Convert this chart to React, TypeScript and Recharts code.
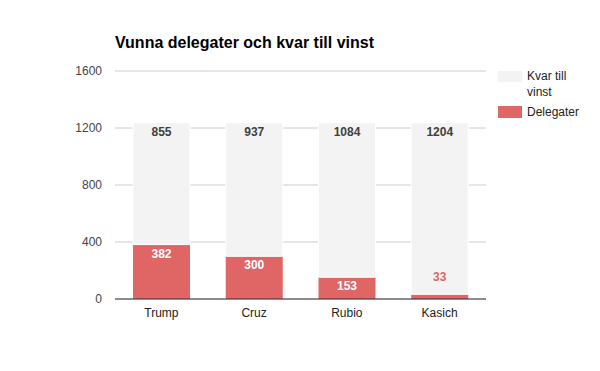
import { BarChart, Bar, XAxis, YAxis, CartesianGrid, LabelList } from "recharts";

const candidates = ["Trump", "Cruz", "Rubio", "Kasich"];
const delegates = [382, 300, 153, 33];
const remaining = [855, 937, 1084, 1204];
const yTicks = [0, 400, 800, 1200, 1600];
const seriesNames = ["Kvar till vinst", "Delegater"];

const RED = "#e06666";
const GRAY = "#f3f3f3";
const FONT = "Arial, 'Liberation Sans', sans-serif";

const data = candidates.map((name, i) => ({
  name,
  delegates: delegates[i],
  remaining: remaining[i],
}));

const RedLabel = (props: any) => {
  const { x, y, width, height, value } = props;
  const cx = x + width / 2;
  // small segment: label sits above the bar in red
  if (height < 20) {
    return (
      <text x={cx} y={y - 13.5} textAnchor="middle" fill={RED} fontSize={12} fontWeight="bold" fontFamily={FONT}>
        {value}
      </text>
    );
  }
  return (
    <text x={cx} y={y + 13} textAnchor="middle" fill="#ffffff" fontSize={12} fontWeight="bold" fontFamily={FONT}>
      {value}
    </text>
  );
};

const GrayLabel = (props: any) => {
  const { x, y, width, value } = props;
  return (
    <text x={x + width / 2} y={y + 13} textAnchor="middle" fill="#3f3f3f" fontSize={12} fontWeight="bold" fontFamily={FONT}>
      {value}
    </text>
  );
};

export default function App() {
  return (
    <div style={{ position: "absolute", left: 0, top: 0, width: 600, height: 371, background: "#fff", fontFamily: FONT }}>
      <div style={{ position: "absolute", left: 115, top: 34, fontSize: 16, fontWeight: "bold", color: "#000", whiteSpace: "nowrap" }}>
        Vunna delegater och kvar till vinst
      </div>

      {/* Legend */}
      <div style={{ position: "absolute", left: 498, top: 68, fontSize: 12, color: "#222", lineHeight: "16px" }}>
        <div style={{ display: "flex", alignItems: "flex-start" }}>
          <div style={{ width: 24, height: 11, background: GRAY, marginTop: 3 }} />
          <div style={{ marginLeft: 5, width: 60 }}>{seriesNames[0]}</div>
        </div>
        <div style={{ display: "flex", alignItems: "flex-start", marginTop: 4 }}>
          <div style={{ width: 24, height: 12, background: RED, marginTop: 2 }} />
          <div style={{ marginLeft: 5 }}>{seriesNames[1]}</div>
        </div>
      </div>

      <BarChart
        width={600}
        height={371}
        data={data}
        margin={{ top: 71, right: 114, bottom: 42, left: 55 }}
        barSize={57}
      >
        <CartesianGrid horizontal vertical={false} stroke="#cccccc" />
        <XAxis
          dataKey="name"
          height={30}
          tickLine={false}
          tickSize={6}
          tickMargin={3}
          axisLine={{ stroke: "#333333" }}
          tick={{ fontSize: 12, fill: "#222222", fontFamily: FONT }}
        />
        <YAxis
          width={60}
          domain={[0, 1600]}
          ticks={yTicks}
          axisLine={false}
          tickLine={false}
          tickSize={6}
          tickMargin={7}
          tick={{ fontSize: 12, fill: "#444444", fontFamily: FONT }}
        />
        <Bar dataKey="delegates" stackId="a" fill={RED} isAnimationActive={false}>
          <LabelList dataKey="delegates" content={RedLabel} />
        </Bar>
        <Bar dataKey="remaining" stackId="a" fill={GRAY} stroke="#ffffff" strokeWidth={1} isAnimationActive={false}>
          <LabelList dataKey="remaining" content={GrayLabel} />
        </Bar>
      </BarChart>
    </div>
  );
}
